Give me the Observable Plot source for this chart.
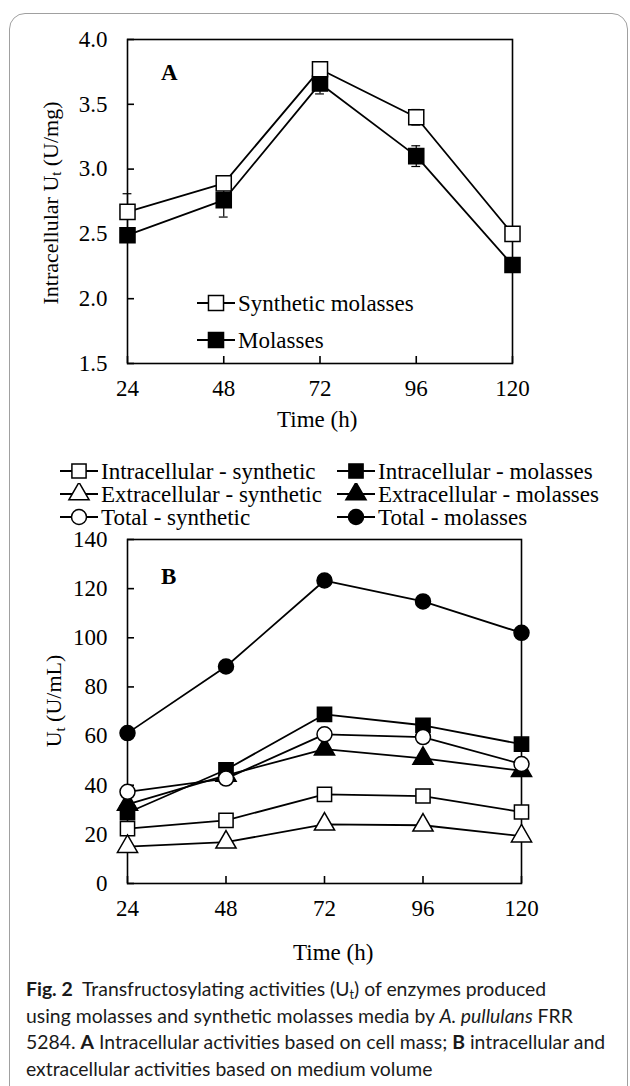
<!DOCTYPE html>
<html><head><meta charset="utf-8">
<script src="https://cdn.jsdelivr.net/npm/d3@7"></script>
<script src="https://cdn.jsdelivr.net/npm/@observablehq/plot@0.6"></script>
<style>
body{margin:0;background:#fff;}
#wrap{position:relative;width:630px;height:1086px;overflow:hidden;font-family:"Liberation Serif",serif;color:#000;}
.outer{position:absolute;left:9px;top:13px;width:619px;height:1200px;border:1.5px solid #a0a0a0;border-radius:16px;box-sizing:border-box;}
.abs{position:absolute;white-space:nowrap;}
.lbl{font-size:23px;line-height:24px;}
.ylab{font-size:22px;transform-origin:center;}
.leg{font-size:23px;line-height:23px;display:flex;align-items:center;}
.leg svg{display:block;margin-right:3px;}
.caption{font-family:Lato,"Noto Sans",sans-serif;font-size:19.4px;line-height:26.5px;color:#1a1a1a;}
sub{font-size:65%;vertical-align:-0.25em;line-height:0;}
</style></head><body>
<div id="wrap"><div class="outer"></div></div>
<script>
// ---------- data ----------
const hours = [24, 48, 72, 96, 120];
// Panel A: intracellular Ut (U/mg)
const synA    = [2.67, 2.89, 3.77, 3.40, 2.50];
const synAErr = [0.14, 0.03, 0.05, 0.06, 0.03];
const molA    = [2.49, 2.76, 3.66, 3.10, 2.26];
const molAErr = [0.05, 0.13, 0.08, 0.08, 0.03];
const ticksA  = [1.5, 2.0, 2.5, 3.0, 3.5, 4.0];
// Panel B: Ut (U/mL)
const intraSyn = [22.3, 25.7, 36.3, 35.6, 29.1];
const intraMol = [28.8, 46.3, 68.8, 64.4, 56.7];
const extraSyn = [15.0, 16.8, 24.1, 23.7, 19.3];
const extraMol = [32.2, 44.0, 54.7, 50.9, 45.9];
const totalSyn = [37.3, 42.7, 60.7, 59.6, 48.6];
const totalMol = [61.2, 88.3, 123.3, 114.8, 102.0];
const ticksB   = [0, 20, 40, 60, 80, 100, 120, 140];

const seriesA = [
  {name: "Synthetic molasses", values: synA, err: synAErr, symbol: "square", fill: "white"},
  {name: "Molasses", values: molA, err: molAErr, symbol: "square", fill: "black"}
];
const seriesB = [
  {name: "Intracellular - synthetic", values: intraSyn, symbol: "square", fill: "white"},
  {name: "Intracellular - molasses", values: intraMol, symbol: "square", fill: "black"},
  {name: "Extracellular - synthetic", values: extraSyn, symbol: "triangle", fill: "white"},
  {name: "Extracellular - molasses", values: extraMol, symbol: "triangle", fill: "black"},
  {name: "Total - synthetic", values: totalSyn, symbol: "circle", fill: "white"},
  {name: "Total - molasses", values: totalMol, symbol: "circle", fill: "black"}
];
const rA = s => 8.5;
const rB = s => s === "square" ? 8 : 7.5;

const wrap = document.getElementById("wrap");
function place(el, left, top) { el.style.left = left + "px"; el.style.top = top + "px"; wrap.appendChild(el); return el; }
function html(cls, h) { const d = document.createElement("div"); d.className = "abs " + cls; d.innerHTML = h; return d; }

const style = {fontFamily: "Liberation Serif, serif", fontSize: "23px", color: "black", background: "transparent", overflow: "visible"};
const TICK = 7;

function axesMarks(xTicks, yTicks, yFmt) {
  return [
    Plot.frame({stroke: "black", strokeWidth: 1.6}),
    // tick labels
    Plot.axisX({ticks: xTicks, tickSize: 0, tickPadding: 16, tickFormat: d => d, label: null, fontSize: 23}),
    Plot.axisY({ticks: yTicks, tickSize: 0, tickPadding: 20, tickFormat: yFmt, label: null, fontSize: 23}),
    // inward tick marks (outward ticks shifted into the frame)
    Plot.axisX({ticks: xTicks, tickSize: TICK, dy: -TICK, tickFormat: () => "", label: null, stroke: "black", strokeWidth: 1.6}),
    Plot.axisY({ticks: yTicks, tickSize: TICK, dx: TICK, tickFormat: () => "", label: null, stroke: "black", strokeWidth: 1.6})
  ];
}

// ---------- Panel A ----------
const A = {width: 630, height: 440, ml: 127, mr: 118, mt: 39, mb: 77, x: [24, 120], y: [1.5, 4.0]};
const rowsA = seriesA.flatMap(s => hours.map((h, i) => ({s: s.name, h, v: s.values[i], e: s.err[i]})));
const marksA = [
  ...axesMarks(hours, ticksA, d => d.toFixed(1)),
  Plot.ruleX(rowsA, {x: "h", y1: d => d.v - d.e, y2: d => d.v + d.e, stroke: "black", strokeWidth: 1.2}),
  Plot.ruleY(rowsA, {y: d => d.v + d.e, x1: d => d.h - 1.1, x2: d => d.h + 1.1, stroke: "black", strokeWidth: 1.2}),
  Plot.ruleY(rowsA, {y: d => d.v - d.e, x1: d => d.h - 1.1, x2: d => d.h + 1.1, stroke: "black", strokeWidth: 1.2}),
  Plot.line(rowsA, {x: "h", y: "v", z: "s", stroke: "black", strokeWidth: 1.8})
];
for (const s of [...seriesA].reverse()) {
  marksA.push(Plot.dot(rowsA.filter(d => d.s === s.name), {x: "h", y: "v", symbol: s.symbol, r: rA(s.symbol), fill: s.fill, stroke: "black", strokeWidth: 1.5}));
}
const plotA = Plot.plot({
  width: A.width, height: A.height, marginLeft: A.ml, marginRight: A.mr, marginTop: A.mt, marginBottom: A.mb,
  x: {type: "linear", domain: A.x},
  y: {type: "linear", domain: A.y},
  style, marks: marksA
});
plotA.style.position = "absolute";
place(plotA, 0, 0);

// ---------- Panel B ----------
const B = {width: 630, height: 440, ml: 127, mr: 109, mt: 9, mb: 87, x: [24, 120], y: [0, 140]};
const rowsB = seriesB.flatMap(s => hours.map((h, i) => ({s: s.name, h, v: s.values[i]})));
const marksB = [
  ...axesMarks(hours, ticksB, d => d),
  Plot.line(rowsB, {x: "h", y: "v", z: "s", stroke: "black", strokeWidth: 1.8})
];
for (const s of seriesB) {
  marksB.push(Plot.dot(rowsB.filter(d => d.s === s.name), {x: "h", y: "v", symbol: s.symbol, r: rB(s.symbol), fill: s.fill, stroke: "black", strokeWidth: 1.5}));
}
const plotB = Plot.plot({
  width: B.width, height: B.height, marginLeft: B.ml, marginRight: B.mr, marginTop: B.mt, marginBottom: B.mb,
  x: {type: "linear", domain: B.x},
  y: {type: "linear", domain: B.y},
  style, marks: marksB
});
plotB.style.position = "absolute";
place(plotB, 0, 530);

// ---------- legends ----------
function marker(sym, fill, w, size) {
  const r = size;
  const svg = d3.create("svg").attr("width", w).attr("height", 22);
  svg.append("line").attr("x1", 0).attr("x2", w).attr("y1", 11).attr("y2", 11).attr("stroke", "black").attr("stroke-width", 1.8);
  const t = sym === "square" ? d3.symbolSquare : sym === "triangle" ? d3.symbolTriangle : d3.symbolCircle;
  svg.append("path").attr("d", d3.symbol(t, Math.PI * r * r)()).attr("transform", `translate(${w / 2},11)`)
    .attr("fill", fill).attr("stroke", "black").attr("stroke-width", 1.5);
  return svg.node();
}
function legendItem(s, w, size, left, cy) {
  const d = document.createElement("div");
  d.className = "abs leg";
  d.appendChild(marker(s.symbol, s.fill, w, size));
  const sp = document.createElement("span"); sp.textContent = s.name; d.appendChild(sp);
  place(d, left, cy - 11.5);
}
legendItem(seriesA[0], 38, 8.5, 197, 303);
legendItem(seriesA[1], 38, 8.5, 197, 340);
const colX = [60, 337], rowY = [471, 494, 517];
seriesB.forEach((s, i) => legendItem(s, 38, s.symbol === "square" ? 8 : 7.5, colX[i % 2], rowY[Math.floor(i / 2)]));

// ---------- texts ----------
place(html("lbl", "<b>A</b>"), 161, 61);
place(html("lbl", "<b>B</b>"), 161, 565);
place(html("lbl", "Time (h)"), 277, 408);
place(html("lbl", "Time (h)"), 293, 941);

function ylabel(h, cx, cy) {
  const d = html("ylab", h);
  wrap.appendChild(d);
  const w = d.offsetWidth, hh = d.offsetHeight;
  d.style.left = (cx - w / 2) + "px"; d.style.top = (cy - hh / 2) + "px";
  d.style.transform = "rotate(-90deg)";
}
ylabel("Intracellular U<sub>t</sub> (U/mg)", 50, 203);
ylabel("U<sub>t</sub> (U/mL)", 54, 701);

place(html("caption",
  "<b>Fig. 2</b>&nbsp; Transfructosylating activities (U<sub>t</sub>) of enzymes produced<br>" +
  "using molasses and synthetic molasses media by <i>A. pullulans</i> FRR<br>" +
  "5284. <b>A</b> Intracellular activities based on cell mass; <b>B</b> intracellular and<br>" +
  "extracellular activities based on medium volume"), 26, 976);
</script>
</body></html>
